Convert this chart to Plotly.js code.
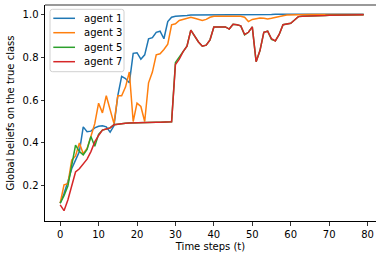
<!DOCTYPE html>
<html>
<head>
<meta charset="utf-8">
<script src="https://cdn.plot.ly/plotly-3.0.1.min.js"></script>
<style>html,body{margin:0;padding:0;background:#fff;}#chart{width:376px;height:255px;}</style>
</head>
<body>
<div id="chart"></div>
<script>
var timeSteps = [0,1,2,3,4,5,6,7,8,9,10,11,12,13,14,15,16,17,18,19,20,21,22,23,24,25,26,27,28,29,30,31,32,33,34,35,36,37,38,39,40,41,42,43,44,45,46,47,48,49,50,51,52,53,54,55,56,57,58,59,60,61,62,63,64,65,66,67,68,69,70,71,72,73,74,75,76,77,78,79];

var agent1 = [0.12,0.165,0.22,0.28,0.32,0.36,0.475,0.452,0.455,0.47,0.478,0.48,0.475,0.45,0.48,0.62,0.71,0.70,0.68,0.817,0.82,0.79,0.81,0.885,0.89,0.915,0.92,0.885,0.965,0.985,0.99,0.99,0.992,0.993,0.995,0.995,0.995,0.996,0.996,0.996,0.997,0.997,0.997,0.997,0.997,0.997,0.998,0.998,0.998,0.998,0.998,0.998,0.998,0.998,0.998,0.998,0.999,0.999,0.999,0.999,0.999,0.999,0.999,0.999,0.999,0.999,0.999,0.999,0.999,0.999,0.999,0.999,0.999,0.999,0.999,0.999,0.999,0.999,0.999,0.999];

var agent3 = [0.12,0.205,0.21,0.32,0.34,0.40,0.35,0.375,0.43,0.49,0.585,0.54,0.62,0.555,0.49,0.62,0.62,0.66,0.73,0.50,0.585,0.57,0.50,0.68,0.73,0.81,0.815,0.835,0.86,0.95,0.955,0.97,0.975,0.98,0.985,0.98,0.975,0.97,0.975,0.985,0.99,0.99,0.99,0.99,0.99,0.99,0.99,0.99,0.985,0.965,0.975,0.98,0.982,0.98,0.977,0.98,0.985,0.99,0.992,0.995,0.996,0.996,0.997,0.997,0.997,0.998,0.998,0.998,0.998,0.998,0.998,0.998,0.998,0.998,0.998,0.998,0.998,0.998,0.998,0.998];

var agent5 = [0.12,0.155,0.20,0.29,0.39,0.36,0.345,0.37,0.43,0.385,0.44,0.46,0.465,0.47,0.485,0.488,0.49,0.492,0.493,0.494,0.494,0.495,0.495,0.496,0.496,0.497,0.497,0.498,0.498,0.499,0.775,0.80,0.825,0.85,0.925,0.895,0.87,0.85,0.855,0.88,0.94,0.94,0.94,0.94,0.93,0.952,0.95,0.945,0.903,0.915,0.94,0.778,0.83,0.915,0.92,0.882,0.875,0.905,0.95,0.953,0.957,0.972,0.988,0.99,0.99,0.99,0.992,0.992,0.993,0.993,0.994,0.994,0.995,0.995,0.995,0.996,0.996,0.996,0.997,0.997];

var agent7 = [0.112,0.085,0.135,0.20,0.265,0.28,0.305,0.325,0.36,0.405,0.435,0.46,0.465,0.47,0.485,0.488,0.49,0.492,0.493,0.494,0.494,0.495,0.495,0.496,0.496,0.497,0.497,0.498,0.498,0.499,0.765,0.79,0.825,0.85,0.925,0.895,0.87,0.85,0.855,0.88,0.94,0.94,0.94,0.94,0.93,0.952,0.95,0.945,0.905,0.915,0.94,0.778,0.83,0.915,0.92,0.885,0.875,0.905,0.95,0.953,0.957,0.972,0.988,0.99,0.99,0.99,0.992,0.992,0.993,0.993,0.994,0.994,0.995,0.995,0.995,0.996,0.996,0.996,0.997,0.997];

var seriesNames = ["agent 1","agent 3","agent 5","agent 7"];
var seriesData = [agent1, agent3, agent5, agent7];
var seriesColors = ["#1f77b4","#ff7f0e","#2ca02c","#d62728"];

var traces = seriesData.map(function(vals, i){
  return {x: timeSteps, y: vals, type: "scatter", mode: "lines", name: seriesNames[i],
          line: {color: seriesColors[i], width: 1.5}};
});

var fontFam = "DejaVu Sans, sans-serif";
var FS = 10;

// plot area in pixels: x 45..376, y 5..221
var W = 331, H = 216;
function px(x){ return (x - 45) / W; }
function py(y){ return 1 - (y - 5) / H; }

// legend drawn with shapes + annotations (matplotlib-like compact legend)
var bx0 = px(50), bx1 = px(124), by0 = py(9.3), by1 = py(71.7);
var rx = 2.5 / W, ry = 2.5 / H;
var boxPath = "M " + (bx0 + rx) + "," + by0 +
  " L " + (bx1 - rx) + "," + by0 + " Q " + bx1 + "," + by0 + " " + bx1 + "," + (by0 - ry) +
  " L " + bx1 + "," + (by1 + ry) + " Q " + bx1 + "," + by1 + " " + (bx1 - rx) + "," + by1 +
  " L " + (bx0 + rx) + "," + by1 + " Q " + bx0 + "," + by1 + " " + bx0 + "," + (by1 + ry) +
  " L " + bx0 + "," + (by0 - ry) + " Q " + bx0 + "," + by0 + " " + (bx0 + rx) + "," + by0 + " Z";

var shapes = [
  {type: "line", xref: "paper", yref: "paper", x0: 0, x1: 1, y0: 1, y1: 1, layer: "above",
   line: {color: "#777", width: 1.5}},
  {type: "path", xref: "paper", yref: "paper", path: boxPath, layer: "above",
   fillcolor: "rgba(255,255,255,0.8)", line: {color: "#d0d0d0", width: 1}}
];
var annotations = [];
var entryY = [18.3, 32.7, 47.3, 61.7];
seriesNames.forEach(function(nm, i){
  shapes.push({type: "line", xref: "paper", yref: "paper", x0: px(53.3), x1: px(75),
               y0: py(entryY[i]), y1: py(entryY[i]), layer: "above",
               line: {color: seriesColors[i], width: 1.5}});
  annotations.push({xref: "paper", yref: "paper", x: px(81.5), y: py(entryY[i]),
                    xanchor: "left", yanchor: "middle", showarrow: false, text: nm,
                    font: {family: fontFam, size: FS, color: "#000"}});
});

var layout = {
  width: 376, height: 255,
  margin: {l: 45, r: 0, t: 5, b: 34},
  paper_bgcolor: "#fff", plot_bgcolor: "#fff",
  font: {family: fontFam, size: FS, color: "#000"},
  showlegend: false,
  xaxis: {range: [-3.95, 82.2], tickmode: "array", tickvals: [0,10,20,30,40,50,60,70,80],
          showgrid: false, zeroline: false, showline: true, linecolor: "#000", linewidth: 1,
          ticks: "outside", ticklen: 3.5, tickwidth: 0.8, tickcolor: "#000",
          tickfont: {family: fontFam, size: FS, color: "#000"},
          title: {text: "Time steps (t)", font: {family: fontFam, size: FS, color: "#000"}, standoff: 4}},
  yaxis: {range: [0.037, 1.042], tickmode: "array", tickvals: [0.2,0.4,0.6,0.8,1.0],
          ticktext: ["0.2","0.4","0.6","0.8","1.0"],
          showgrid: false, zeroline: false, showline: true, linecolor: "#000", linewidth: 1,
          ticks: "outside", ticklen: 3.5, tickwidth: 0.8, tickcolor: "#000",
          tickfont: {family: fontFam, size: FS, color: "#000"},
          title: {text: "Global beliefs on the true class", font: {family: fontFam, size: FS, color: "#000"}, standoff: 6}},
  shapes: shapes,
  annotations: annotations
};

Plotly.newPlot("chart", traces, layout, {displayModeBar: false, staticPlot: true});
</script>
</body>
</html>
